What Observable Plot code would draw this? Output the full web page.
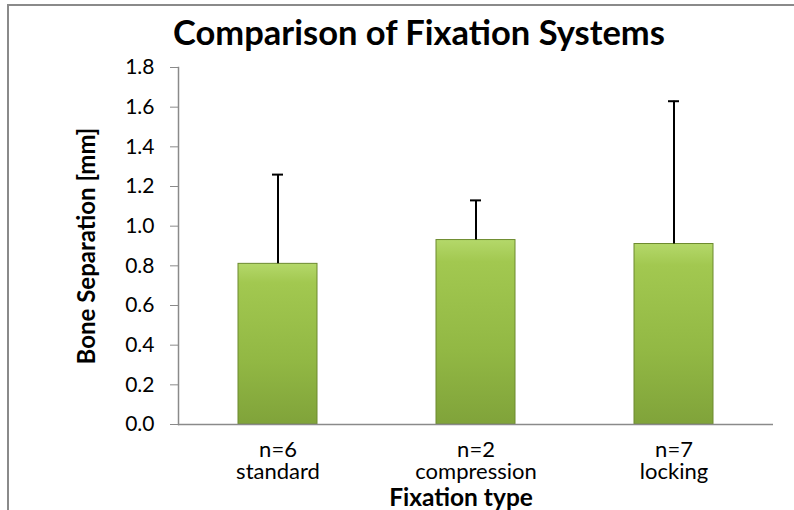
<!DOCTYPE html>
<html>
<head>
<meta charset="utf-8">
<script src="https://cdn.jsdelivr.net/npm/d3@7"></script>
<script src="https://cdn.jsdelivr.net/npm/@observablehq/plot@0.6"></script>
<style>
  html, body { margin: 0; padding: 0; background: #fff; overflow: hidden; }
  #wrap { position: relative; width: 794px; height: 510px; overflow: hidden; font-family: Lato, "Open Sans", sans-serif; }
  #frame { position: absolute; left: 7px; top: 4px; width: 900px; height: 600px; border-left: 2px solid #8a8a8a; border-top: 2px solid #8a8a8a; }
  #title { position: absolute; left: 22px; top: 12px; width: 794px; text-align: center; font-weight: bold; font-size: 34.5px; line-height: 40px; color: #000; }
  #chart { position: absolute; left: 0; top: 50px; }
</style>
</head>
<body>
<div id="wrap">
  <div id="frame"></div>
  <div id="title">Comparison of Fixation Systems</div>
  <div id="chart"></div>
</div>
<script>
const categories = ["standard", "compression", "locking"];
const nLabels = ["n=6", "n=2", "n=7"];
const means = [0.81, 0.93, 0.91];
const sds = [0.45, 0.20, 0.72];
const yTicks = [0, 0.2, 0.4, 0.6, 0.8, 1.0, 1.2, 1.4, 1.6, 1.8];

const data = categories.map((c, i) => ({cat: c, n: nLabels[i], mean: means[i], top: means[i] + sds[i]}));

const font = "Lato, 'Open Sans', sans-serif";

const plot = Plot.plot({
  width: 794,
  height: 460,
  marginTop: 17,
  marginBottom: 86,
  marginLeft: 178,
  marginRight: 21,
  style: {fontFamily: font, background: "transparent", color: "#000", overflow: "visible"},
  x: {domain: categories, paddingInner: 0.6, paddingOuter: 0.3, label: null},
  y: {domain: [0, 1.8], label: null},
  marks: [
    Plot.barY(data, {x: "cat", y: "mean", fill: "url(#barGrad)", stroke: "#6c8a2e", strokeWidth: 1}),
    Plot.ruleX(data, {x: "cat", y1: "mean", y2: "top", stroke: "#000", strokeWidth: 2}),
    Plot.tickY(data, {x: "cat", y: "top", stroke: "#000", strokeWidth: 2, insetLeft: 34, insetRight: 34}),
    Plot.axisY({ticks: yTicks, tickFormat: d3.format(".1f"), tickSize: 8, tickPadding: 16, fontSize: 21, stroke: "#8a8a8a", label: null}),
    Plot.frame({anchor: "left", stroke: "#8a8a8a", strokeWidth: 1.5}),
    Plot.ruleY([0], {stroke: "#8a8a8a", strokeWidth: 1.5}),
    Plot.axisX({tickSize: 0, tickPadding: 17, fontSize: 22, lineHeight: 1.0, label: null,
      tickFormat: (d) => nLabels[categories.indexOf(d)] + "\n" + d}),
    Plot.text(["Bone Separation [mm]"], {frameAnchor: "left", rotate: -90, dx: -91, fontSize: 24, fontWeight: "bold", textAnchor: "middle", lineAnchor: "middle"}),
    Plot.text(["Fixation type"], {frameAnchor: "bottom", dy: 74, dx: -15, fontSize: 24.5, fontWeight: "bold", textAnchor: "middle", lineAnchor: "middle"})
  ]
});

// gradient definition for bevelled bars
const ns = "http://www.w3.org/2000/svg";
const defs = document.createElementNS(ns, "defs");
defs.innerHTML = `
  <linearGradient id="barGrad" x1="0" y1="0" x2="0" y2="1">
    <stop offset="0" stop-color="#b4d86a"/>
    <stop offset="0.12" stop-color="#a2c850"/>
    <stop offset="0.6" stop-color="#92b844"/>
    <stop offset="1" stop-color="#80a33a"/>
  </linearGradient>`;
plot.insertBefore(defs, plot.firstChild);
document.getElementById("chart").appendChild(plot);
</script>
</body>
</html>
